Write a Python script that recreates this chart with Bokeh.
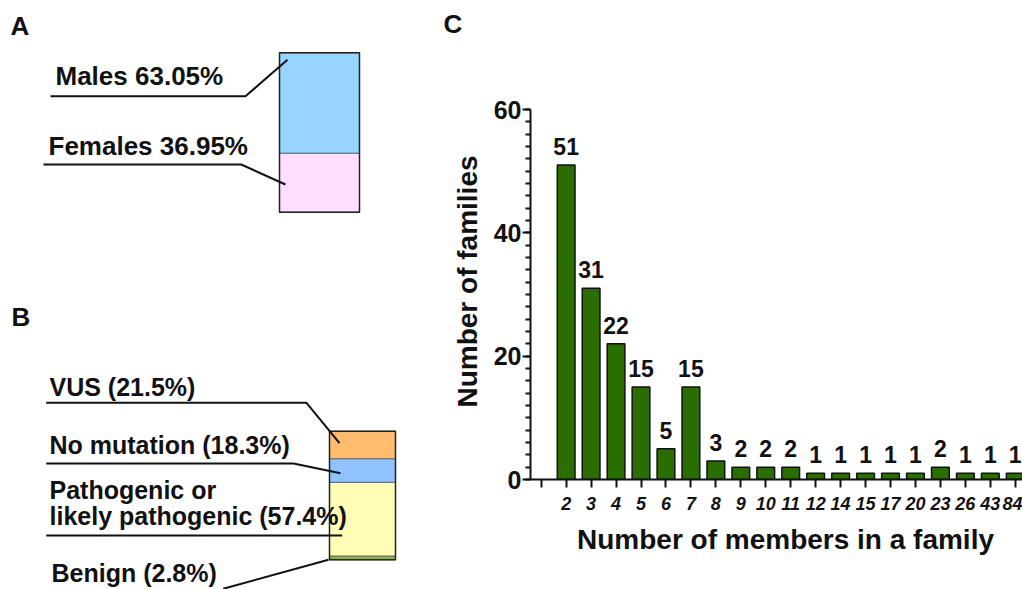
from math import pi
from bokeh.plotting import figure
from bokeh.models import (Range1d, ColumnDataSource, LabelSet, Label,
                          FixedTicker, SingleIntervalTicker)
from bokeh.layouts import row, column
from bokeh.embed import file_html
from bokeh.resources import INLINE
from bokeh.core.properties import value

# ---------------- data ----------------
sex_labels = ["Males", "Females"]
sex_pct = [63.05, 36.95]
sex_colors = ["#97D4FF", "#FFDDFC"]

variant_labels = ["VUS", "No mutation", "Pathogenic or\nlikely pathogenic", "Benign"]
variant_pct = [21.5, 18.3, 57.4, 2.8]
variant_colors = ["#FFBB6E", "#8FC2FF", "#FFFDB6", "#8FB43A"]

family_size = ["2", "3", "4", "5", "6", "7", "8", "9", "10", "11", "12",
               "14", "15", "17", "20", "23", "26", "43", "84"]
family_count = [51, 31, 22, 15, 5, 15, 3, 2, 2, 2, 1, 1, 1, 1, 1, 2, 1, 1, 1]

FONT = "Liberation Sans"
INK = "#111111"
H = 589
BASE_SHIFT = 0.385  # observed offset of Label anchor vs. glyph baseline, in em


def Y(py):
    # page pixel row -> data y of the layout figures (y grows upward)
    return H - py


# ---------------- left figure (panels A, B, letter C, y title) ----------------
LW = 490
pl = figure(width=LW, height=H, x_range=Range1d(0, LW), y_range=Range1d(0, H),
            output_backend="svg", toolbar_location=None,
            x_axis_location=None, y_axis_location=None,
            min_border=0, outline_line_color=None)
pl.frame_align = False
pl.xgrid.visible = False
pl.ygrid.visible = False


def stacked(p, pcts, colors, left, right, top, bottom):
    h = bottom - top
    tops, bots = [], []
    acc = 0.0
    total = sum(pcts)
    for v in pcts:
        tops.append(Y(top + h * acc / total))
        acc += v
        bots.append(Y(top + h * acc / total))
    p.quad(left=[left] * len(pcts), right=[right] * len(pcts), top=tops, bottom=bots,
           fill_color=colors, line_color="#6a6a6a", line_width=1)
    p.quad(left=[left], right=[right], top=[Y(top)], bottom=[Y(bottom)],
           fill_color=None, line_color="#222222", line_width=1.5)


def txt(p, x, y, s, size, align="left", angle=0.0):
    sz = float(size.replace("px", ""))
    if angle:
        x, yy = x - BASE_SHIFT * sz, y
    else:
        x, yy = x, y - BASE_SHIFT * sz
    p.add_layout(Label(x=x, y=Y(yy), text=s, text_font=FONT, text_font_style="bold",
                       text_font_size=size, text_color=INK, text_baseline="alphabetic",
                       text_align=align, angle=angle))


def leader(p, xs, ys):
    p.line(xs, [Y(v) for v in ys], line_color=INK, line_width=2)


# Panel A
txt(pl, 10, 36, "A", "26px")
stacked(pl, sex_pct, sex_colors, 279, 359, 52.3, 211.7)
a_text = [f"{l} {v:.2f}%" for l, v in zip(sex_labels, sex_pct)]
txt(pl, 55, 86, a_text[0], "26px")
txt(pl, 48, 155.7, a_text[1], "26px")
leader(pl, [50, 245, 287], [95.7, 95.7, 59.3])
leader(pl, [43, 240.7, 285], [164, 164, 184])

# Panel B
txt(pl, 11, 327, "B", "26px")
stacked(pl, variant_pct, variant_colors, 329, 395, 430.7, 559.3)
b_text = [f"{l} ({v}%)" for l, v in zip(variant_labels, variant_pct)]
b_pos = [(49, [396]), (49, [454.3]), (49, [499.3, 525]), (51, [582.5])]
for s, (bx, ys) in zip(b_text, b_pos):
    for line_s, by in zip(s.split("\n"), ys):
        txt(pl, bx, by, line_s, "25px")
leader(pl, [45.7, 306, 339], [402.3, 402.3, 442.7])
leader(pl, [45.7, 293, 340], [463, 463, 472.7])
leader(pl, [45.7, 341.7], [535, 535])
leader(pl, [222.7, 328], [588.3, 559.3])

# Panel C letter and y-axis title
txt(pl, 443, 34, "C", "26px")
txt(pl, 478, 281, "Number of families", "28px", align="center", angle=pi / 2)

# ---------------- panel C chart ----------------
CW = 1022 - LW
CH = 525
step = 24.95
tick0 = 540.7
frame_left = 530
x0 = (frame_left - tick0) / step
x1 = (1022 - tick0) / step
pc = figure(width=CW, height=CH, x_range=Range1d(x0, x1), y_range=Range1d(0, 60),
            output_backend="svg", toolbar_location=None,
            min_border_left=frame_left - LW, min_border_right=0, min_border_top=109,
            min_border_bottom=CH - 479, outline_line_color=None)
pc.frame_align = False
pc.xgrid.visible = False
pc.ygrid.visible = False

positions = list(range(1, len(family_size) + 1))
src = ColumnDataSource(dict(x=positions, top=family_count,
                            lab=[str(c) for c in family_count]))
pc.vbar(x="x", top="top", width=0.71, source=src, fill_color="#2B6E00",
        line_color=INK, line_width=1.5)
pc.add_layout(LabelSet(x="x", y="top", text="lab", source=src, y_offset=10,
                       text_align="center", text_baseline="alphabetic",
                       text_font=value(FONT), text_font_style="bold",
                       text_font_size="23px", text_color=INK))

xa = pc.xaxis[0]
xa.ticker = FixedTicker(ticks=[0] + positions)
xa.major_label_overrides = {0: ""} | {p: s for p, s in zip(positions, family_size)}
xa.major_label_text_font = FONT
xa.major_label_text_font_style = "bold italic"
xa.major_label_text_font_size = "18px"
xa.major_label_text_color = INK
xa.major_label_standoff = 9
xa.axis_line_width = 2
xa.axis_line_color = INK
xa.major_tick_line_width = 2
xa.major_tick_line_color = INK
xa.major_tick_out = 8
xa.major_tick_in = 0
xa.minor_tick_line_color = None

ya = pc.yaxis[0]
ya.ticker = SingleIntervalTicker(interval=20, num_minor_ticks=10)
ya.major_label_text_font = FONT
ya.major_label_text_font_style = "bold"
ya.major_label_text_font_size = "25px"
ya.major_label_text_color = INK
ya.major_label_standoff = 1
ya.axis_line_width = 2
ya.axis_line_color = INK
ya.major_tick_line_width = 2
ya.major_tick_line_color = INK
ya.major_tick_out = 8
ya.major_tick_in = 0
ya.minor_tick_line_width = 2
ya.minor_tick_line_color = INK
ya.minor_tick_out = 5
ya.minor_tick_in = 0

# ---------------- strip below panel C holding the x-axis title ----------------
ps = figure(width=CW, height=H - CH, x_range=Range1d(LW, 1022), y_range=Range1d(0, H - CH),
            output_backend="svg", toolbar_location=None,
            x_axis_location=None, y_axis_location=None,
            min_border=0, outline_line_color=None)
ps.frame_align = False
ps.xgrid.visible = False
ps.ygrid.visible = False
ps.add_layout(Label(x=785, y=H - (550 - BASE_SHIFT * 28), text="Number of members in a family",
                    text_font=FONT, text_font_style="bold", text_font_size="28px",
                    text_color=INK, text_baseline="alphabetic", text_align="center"))

layout = row(pl, column(pc, ps))
open("out.html", "w").write(file_html(layout, INLINE))
